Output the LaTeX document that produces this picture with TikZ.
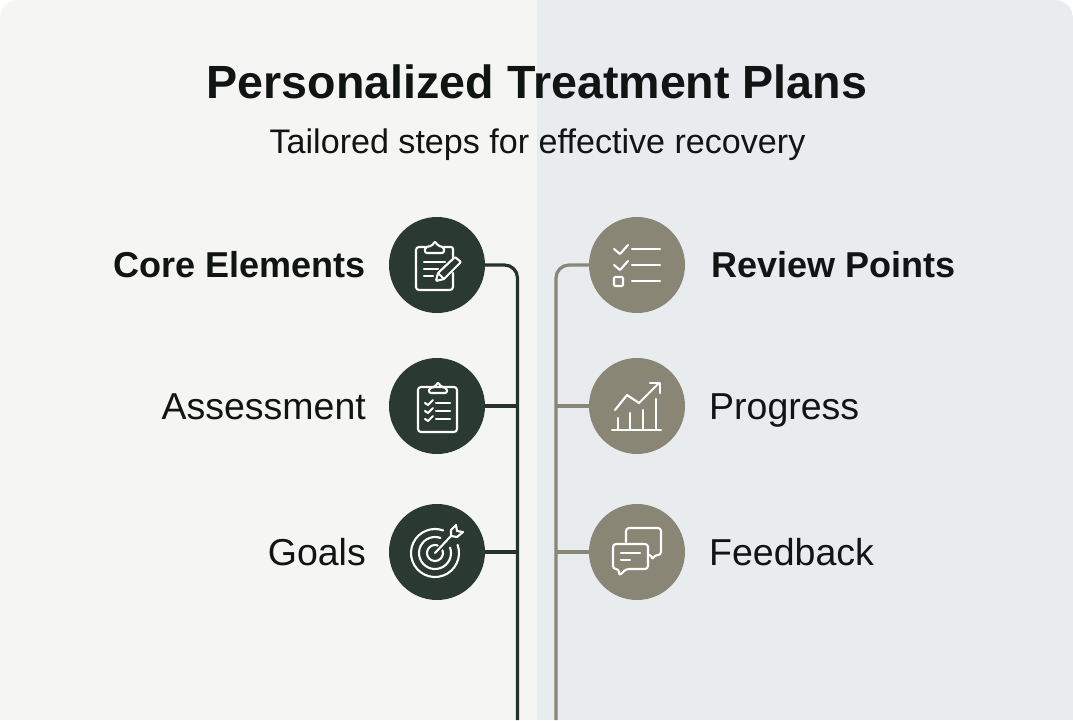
\documentclass[tikz,border=0pt]{standalone}
\usepackage{fontspec}
\setmainfont{Liberation Sans}
\definecolor{darkgreen}{HTML}{2A3A33}
\definecolor{darkline}{HTML}{26332D}
\definecolor{taupe}{HTML}{8A8675}
\definecolor{inkc}{HTML}{101412}
\definecolor{leftbg}{HTML}{F5F5F4}
\definecolor{rightbg}{HTML}{E8ECEE}
\tikzset{
 dcirc/.style={circle,fill=darkgreen,minimum size=96pt,inner sep=0pt},
 tcirc/.style={circle,fill=taupe,minimum size=96pt,inner sep=0pt},
 dline/.style={draw=darkline,line width=3.2pt},
 tline/.style={draw=taupe,line width=3.2pt},
 icon/.style={draw=white,line width=2.1pt,line cap=round,line join=round,fill=none},
 head/.style={text=inkc,font=\fontsize{36}{40}\selectfont\bfseries,inner sep=0pt},
 item/.style={text=inkc,font=\fontsize{37.5}{40}\selectfont,inner sep=0pt},
}
\begin{document}
\begin{tikzpicture}[x=1pt,y=-1pt]
\useasboundingbox (0,0) rectangle (1073,720);
\begin{scope}
\clip[rounded corners=18pt] (0,760) -- (0,0) -- (1073,0) -- (1073,760) -- cycle;
\fill[leftbg] (0,0) rectangle (537,720);
\fill[rightbg] (537,0) rectangle (1073,720);
\end{scope}
\node (title) at (537,98) [anchor=base,text=inkc,font=\fontsize{46.6}{50}\selectfont\bfseries,inner sep=0pt] {Personalized Treatment Plans};
\node (sub) at (537.5,153) [anchor=base,text=inkc,font=\fontsize{34.1}{38}\selectfont,inner sep=0pt] {Tailored steps for effective recovery};
\node[dcirc] (c1) at (437,265) {};
\node[dcirc] (c2) at (437,406) {};
\node[dcirc] (c3) at (437,552) {};
\node[tcirc] (d1) at (637,265) {};
\node[tcirc] (d2) at (637,406) {};
\node[tcirc] (d3) at (637,552) {};
\coordinate (bl) at (517.5,720);
\coordinate (br) at (556,720);
\draw[dline,rounded corners=13pt] (c1.east) -| (bl);
\draw[dline] (c2.east) -- (c2.east -| bl);
\draw[dline] (c3.east) -- (c3.east -| bl);
\draw[tline,rounded corners=13pt] (d1.west) -| (br);
\draw[tline] (d2.west) -- (d2.west -| br);
\draw[tline] (d3.west) -- (d3.west -| br);
\node[head,anchor=base east] (t1) at (366,277.5) {Core Elements};
\node[item,anchor=base east] (t2) at (366,419) {Assessment};
\node[item,anchor=base east] (t3) at (366,565) {Goals};
\node[head,anchor=base west] (u1) at (711,277.5) {Review Points};
\node[item,anchor=base west] (u2) at (709,419) {Progress};
\node[item,anchor=base west] (u3) at (709,565) {Feedback};
% icon 1
\begin{scope}[shift={(c1.center)},icon]
\draw[rounded corners=3pt] (-12,-18) -- (-21,-18) -- (-21,25) -- (16,25) -- (16,8);
\draw[rounded corners=2pt] (7,-18) -- (16,-18) -- (16,-8);
\draw[rounded corners=2pt] (-12,-12) -- (-12,-18) -- (-5,-19) -- (-2,-24) -- (1,-19) -- (7,-18) -- (7,-12) -- cycle;
\draw (-13,-3) -- (8,-3);
\draw (-13,4) -- (1,4);
\draw (-13,11) -- (-4,11);
\draw[rounded corners=1pt] (18,-8) -- (24,-3) -- (7,14) -- (-1,16) -- (1,8) -- cycle;
\draw (1,8) -- (7,14);
\end{scope}
% icon 2
\begin{scope}[shift={(c2.center)},icon]
\draw[rounded corners=3pt] (-19,-19) rectangle (20,26);
\draw[rounded corners=2pt] (-8,-13) -- (-8,-18) -- (-2,-19) -- (1,-24) -- (4,-19) -- (10,-18) -- (10,-13) -- cycle;
\foreach \yy in {-3,5,13}{
 \draw (-12,\yy) -- (-9,{\yy+2}) -- (-4,{\yy-3});
 \draw (-1,\yy) -- (13,\yy);
}
\end{scope}
% icon 3
\begin{scope}[shift={(c3.center)},icon]
\coordinate (tc) at (-2,1);
\draw (tc) ++(-20:24) arc[start angle=-20,end angle=290,radius=24];
\draw (tc) ++(-20:16) arc[start angle=-20,end angle=290,radius=16];
\draw (tc) ++(-20:8) arc[start angle=-20,end angle=290,radius=8];
\draw (tc) -- (14,-16);
\draw (14,-16) -- (14,-22) -- (19,-27) -- (20,-21) -- (26,-20) -- (20,-15) -- cycle;
\end{scope}
% icon 4
\begin{scope}[shift={(d1.center)},icon]
\draw (-23,-16) -- (-17,-11) -- (-9,-20);
\draw (-23,0) -- (-17,5) -- (-9,-4);
\draw (-5,-16) -- (23,-16);
\draw (-5,0) -- (23,0);
\draw (-5,16) -- (23,16);
\draw[rounded corners=1pt] (-23,12) rectangle (-14,21);
\end{scope}
% icon 5
\begin{scope}[shift={(d2.center)},icon]
\draw (-25,24) -- (24,24);
\draw (-19,24) -- (-19,12);
\draw (-7,24) -- (-7,7);
\draw (6,24) -- (6,4);
\draw (19,24) -- (19,-7);
\draw (-22,4) -- (-10,-11) -- (2,-3) -- (22,-23);
\draw (13,-23) -- (23,-23) -- (23,-13);
\end{scope}
% icon 6
\begin{scope}[shift={(d3.center)},icon]
\draw[rounded corners=3pt] (-11,-10) -- (-11,-24) -- (24,-24) -- (24,3) -- (18,3) -- (15,8) -- (15,3) -- (12,3);
\draw[rounded corners=3pt] (-24,-8) -- (11,-8) -- (11,17) -- (-11,17) -- (-18,24) -- (-18,17) -- (-24,17) -- cycle;
\draw (-16,1) -- (3,1);
\draw (-16,8) -- (-7,8);
\end{scope}
\end{tikzpicture}
\end{document}
